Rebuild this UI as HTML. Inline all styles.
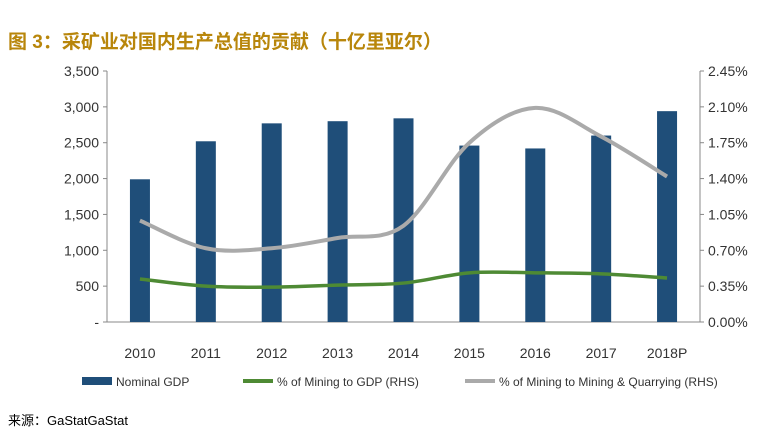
<!DOCTYPE html>
<html><head><meta charset="utf-8">
<style>
body{margin:0;background:#fff;width:779px;height:441px;overflow:hidden;font-family:"Liberation Sans","Noto Sans CJK SC",sans-serif;}
</style></head><body>
<svg width="779" height="441">
<text x="8" y="48" font-size="19" font-weight="bold" fill="#B8860B" font-family="Liberation Sans, Noto Sans CJK SC, sans-serif">图 3：采矿业对国内生产总值的贡献（十亿里亚尔）</text>
<g id="plot"></g>
<text x="8" y="425" font-size="13" fill="#000" font-family="Liberation Sans, Noto Sans CJK SC, sans-serif">来源：GaStatGaStat</text>
</svg>
<script>
const categories=["2010","2011","2012","2013","2014","2015","2016","2017","2018P"];
const gdp=[1990,2520,2770,2800,2840,2460,2420,2600,2940];
const miningGdp=[0.42,0.35,0.34,0.36,0.38,0.48,0.48,0.47,0.43];
const miningQuarry=[0.99,0.72,0.72,0.82,0.94,1.75,2.09,1.81,1.42];
const leftTicks=["-","500","1,000","1,500","2,000","2,500","3,000","3,500"];
const rightTicks=["0.00%","0.35%","0.70%","1.05%","1.40%","1.75%","2.10%","2.45%"];
const NS="http://www.w3.org/2000/svg";
const g=document.getElementById('plot');
const X0=107,X1=700,Y0=322,Y1=71;
const yL=v=>Y0-(v/3500)*(Y0-Y1);
const yR=v=>Y0-(v/2.45)*(Y0-Y1);
const step=(X1-X0)/categories.length;
const xC=i=>X0+step*(i+0.5);
function mk(t,a,p){const e=document.createElementNS(NS,t);for(const k in a)e.setAttribute(k,a[k]);(p||g).appendChild(e);return e;}
// axes
let e=mk('line',{x1:X0,x2:X0,y1:Y1,y2:Y0,stroke:'#888'});


e=mk('line',{x1:X1,x2:X1,y1:Y1,y2:Y0,stroke:'#888'});


e=mk('line',{x1:X0,x2:X1,y1:Y0,y2:Y0,stroke:'#888'});


leftTicks.forEach((t,i)=>{const y=yL(i*500);
 mk('line',{x1:X0-4,x2:X0,y1:y,y2:y,stroke:'#888'});
 e=mk('text',{x:X0-8,y:y+5,'text-anchor':'end','font-size':14,fill:'#333'});e.textContent=t;
 
 });
rightTicks.forEach((t,i)=>{const y=yR(i*0.35);
 mk('line',{x1:X1,x2:X1+4,y1:y,y2:y,stroke:'#888'});
 e=mk('text',{x:X1+8,y:y+5,'font-size':14,fill:'#333'});e.textContent=t;
 
 });
categories.forEach((c,i)=>{
 e=mk('rect',{x:xC(i)-10,y:yL(gdp[i]),width:20,height:Y0-yL(gdp[i]),fill:'#1F4E79'});
 
 
 e=mk('text',{x:xC(i),y:358,'text-anchor':'middle','font-size':14,fill:'#333'});e.textContent=c;
 
 
});
function smooth(vals){const p=vals.map((v,i)=>[xC(i),yR(v)]);let d='M'+p[0];
 for(let i=0;i<p.length-1;i++){const p0=p[i-1]||p[i],p1=p[i],p2=p[i+1],p3=p[i+2]||p2;
  d+=` C${p1[0]+(p2[0]-p0[0])/6},${p1[1]+(p2[1]-p0[1])/6} ${p2[0]-(p3[0]-p1[0])/6},${p2[1]-(p3[1]-p1[1])/6} ${p2[0]},${p2[1]}`;}
 return d;}
e=mk('path',{d:smooth(miningQuarry),fill:'none',stroke:'#AAAAAA','stroke-width':4});


e=mk('path',{d:smooth(miningGdp),fill:'none',stroke:'#4E8A34','stroke-width':3.5});


// legend
const leg=[["rect","#1F4E79","Nominal GDP",82],["line","#4E8A34","% of Mining to GDP (RHS)",243],["line","#AAAAAA","% of Mining to Mining & Quarrying (RHS)",465]];
leg.forEach(l=>{
 if(l[0]=="rect")mk('rect',{x:l[3],y:377,width:30,height:8,fill:l[1]});
 else mk('line',{x1:l[3],x2:l[3]+30,y1:381,y2:381,stroke:l[1],'stroke-width':4});
 e=mk('text',{x:l[3]+34,y:386,'font-size':12,fill:'#333'});e.textContent=l[2];
 
 
});
</script>
</body></html>
